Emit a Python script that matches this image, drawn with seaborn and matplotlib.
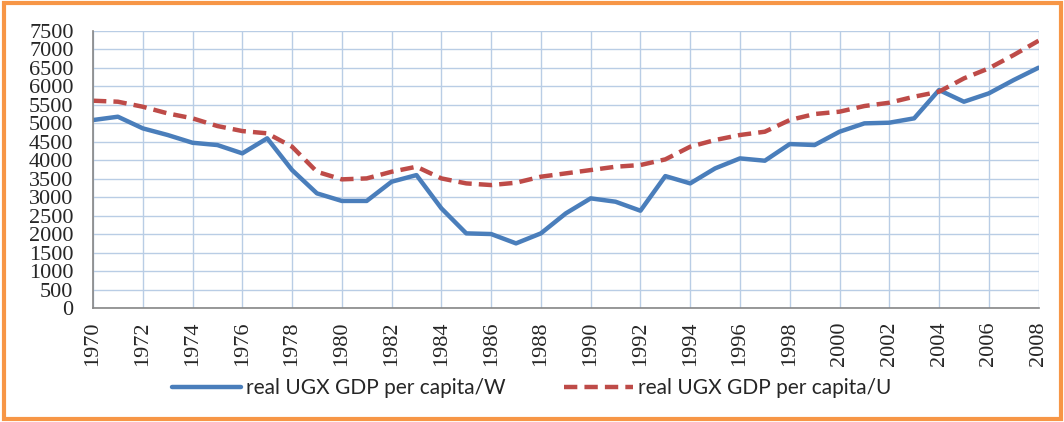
import matplotlib
matplotlib.use('Agg')
import pandas as pd
import matplotlib.pyplot as plt
import seaborn as sns
from matplotlib.patches import Rectangle

# Dados (PIB real per capita em UGX)
anos = list(range(1970, 2009))
pib_w = [5090, 5180, 4865, 4685, 4475, 4413, 4188, 4595, 3736, 3105, 2900,
         2900, 3420, 3600, 2700, 2022, 2004, 1751, 2022, 2563, 2970, 2879,
         2635, 3573, 3375, 3781, 4052, 3989, 4440, 4413, 4774, 5000, 5018,
         5136, 5903, 5586, 5812, 6173, 6507]
pib_u = [5613, 5586, 5450, 5270, 5136, 4928, 4792, 4730, 4368, 3690, 3484,
         3510, 3690, 3826, 3510, 3375, 3330, 3393, 3556, 3646, 3736, 3826,
         3872, 4025, 4368, 4549, 4685, 4774, 5090, 5253, 5316, 5469, 5559,
         5722, 5857, 6218, 6489, 6850, 7237]
nomes = ['real UGX GDP per capita/W', 'real UGX GDP per capita/U']

df = pd.DataFrame({'ano': anos, nomes[0]: pib_w, nomes[1]: pib_u})
df = df.melt(id_vars='ano', var_name='serie', value_name='valor')

sns.set_style('white')
plt.rcParams['font.family'] = ['Liberation Serif', 'DejaVu Serif']

fig = plt.figure(figsize=(10.64, 4.22), dpi=100)
ax = fig.add_axes([0.0874, 0.270, 0.8887, 0.6565])

cores = {nomes[0]: '#4a7ebb', nomes[1]: '#be4b48'}
tracos = {nomes[0]: '', nomes[1]: (3, 1.6)}
sns.lineplot(data=df, x='ano', y='valor', hue='serie', style='serie',
             palette=cores, dashes=tracos, linewidth=3.2, ax=ax)

ax.set_xlim(1970, 2008)
ax.set_ylim(0, 7500)
ax.set_xticks(range(1970, 2009, 2))
ax.set_yticks(range(0, 7501, 500))
ax.set_xlabel('')
ax.set_ylabel('')
ax.grid(True, color='#b9cde5', linewidth=1)
for lado in ['top', 'right']:
    ax.spines[lado].set_visible(False)
for lado in ['left', 'bottom']:
    ax.spines[lado].set_color('#868686')
    ax.spines[lado].set_linewidth(1.2)
ax.tick_params(axis='both', direction='out', color='#868686', labelsize=16)
ax.tick_params(axis='y', length=7, pad=7)
ax.tick_params(axis='x', length=6, pad=3.5, rotation=90)

ax.get_legend().remove()
handles, labels = ax.get_legend_handles_labels()
fig.legend(handles, labels, loc='center', bbox_to_anchor=(0.5, 0.08), ncol=2,
           frameon=False, handlelength=3.3, handletextpad=0.25,
           columnspacing=2.8, prop={'family': 'Lato', 'size': 15})

fig.patches.append(Rectangle((0.004, 0.006), 0.993, 0.986, transform=fig.transFigure,
                             fill=False, edgecolor='#f79646', linewidth=3))

plt.savefig('out.png', dpi=100)
